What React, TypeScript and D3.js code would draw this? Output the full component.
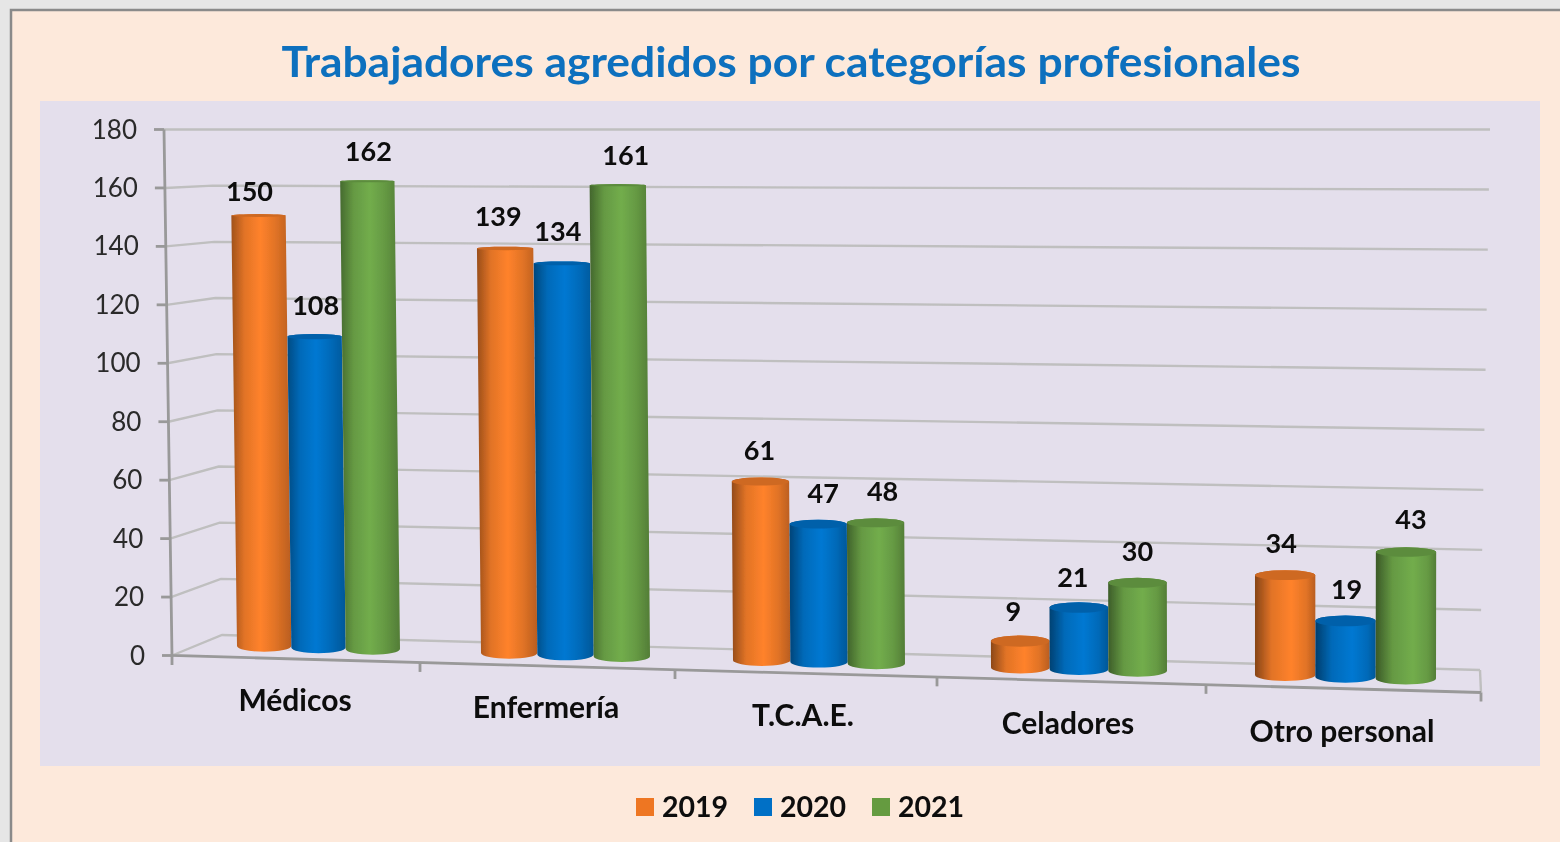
import React from "react";
import * as d3 from "d3";

const title = "Trabajadores agredidos por categorías profesionales";
const categories = ["Médicos", "Enfermería", "T.C.A.E.", "Celadores", "Otro personal"];
const years = ["2019", "2020", "2021"];
const values2019 = [150, 139, 61, 9, 34];
const values2020 = [108, 134, 47, 21, 19];
const values2021 = [162, 161, 48, 30, 43];
const series = [values2019, values2020, values2021];
const axisTicks = [0, 20, 40, 60, 80, 100, 120, 140, 160, 180];

// layout (perspective projection of the original 3-D chart)
const axisY = d3.scaleLinear().domain([0, 180]).range([655.5, 129.5]);
const axisX = d3.scaleLinear().domain([0, 180]).range([172, 164]);
const backLeftY = d3.scaleLinear().domain([0, 180]).range([635, 129.5]);
const backLeftX = d3.scaleLinear().domain([0, 180]).range([222, 212]);
const backRightY = d3.scaleLinear().domain([0, 180]).range([670, 129.5]);
const backRightX = d3.scaleLinear().domain([0, 180]).range([1480, 1490]);
const groupStart = d3.scaleLinear().domain([0, 1, 2, 3, 4]).range([237, 481, 733, 991, 1255]);
const groupWidth = d3.scaleLinear().domain([0, 1, 2, 3, 4]).range([163, 169, 172, 176, 181]);
const baseY = d3.scaleLinear().domain([264, 1407]).range([646, 678.5]);
const unitPx = d3.scaleLinear().domain([264, 600, 1407]).range([2.87, 2.925, 2.94]);
const leanPerPx = d3.scaleLinear().domain([237, 1290]).range([-0.0135, 0]);
const capRy = d3.scaleLinear().domain([130, 680]).range([0.6, 6]).clamp(true);
const highlight = d3.scaleLinear().domain([237, 1437]).range([0.48, 0.62]);
const edgeDark = d3.scaleLinear().domain([237, 1437]).range([0.18, 0.55]);
const floorTicksX = [172, 420, 675, 937, 1206, 1481];
const floorY = d3.scaleLinear().domain([172, 1481]).range([656, 692.5]);
const catLabelX = [295, 546, 803, 1068, 1342];
const catLabelY = d3.scaleLinear().domain([295, 1342]).range([701, 732]);
const labelNudgeX = [[-9, 1, 1], [-7, -4, 8], [-1, 5, 7], [-7, -6, 0], [-4, 1, 5]];
const labelGapY = [[23, 29, 29], [31, 30, 29], [27, 27, 27], [24, 25, 27], [27, 26, 28]];
const palette = ["#FF822B", "#0678D2", "#72AD4C"];
const legendColors = ["#EE7623", "#0270C6", "#659B3F"];
const legendX = [636, 754, 872];

const FONT = "Lato, Carlito, 'Open Sans', sans-serif";

function barGeometry(g: number, s: number, v: number) {
  const w = groupWidth(g) / 3;
  const xl = groupStart(g) + s * w;
  const xr = xl + w;
  const cx = (xl + xr) / 2;
  const by = baseY(cx);
  const h = v * unitPx(cx);
  const ty = by - h;
  const dx = leanPerPx(cx) * h;
  return { xl, xr, cx, by, ty, dx, w };
}

function barPath(b: ReturnType<typeof barGeometry>) {
  const rb = capRy(b.by);
  const rt = capRy(b.ty);
  return `M${b.xl + b.dx},${b.ty} L${b.xl},${b.by} A${b.w / 2},${rb} 0 0 0 ${b.xr},${b.by} L${b.xr + b.dx},${b.ty} A${b.w / 2},${rt} 0 0 0 ${b.xl + b.dx},${b.ty} Z`;
}

function capPath(b: ReturnType<typeof barGeometry>) {
  const rt = capRy(b.ty);
  return `M${b.xl + b.dx},${b.ty} A${b.w / 2},${rt} 0 1 1 ${b.xr + b.dx},${b.ty} A${b.w / 2},${rt} 0 1 1 ${b.xl + b.dx},${b.ty} Z`;
}

export default function App() {
  const line = d3.line();
  const bars = categories.flatMap((_, g) => series.map((vals, s) => ({ g, s, v: vals[g], b: barGeometry(g, s, vals[g]) })));
  return (
    <svg width={1560} height={842} style={{ position: "absolute", left: 0, top: 0 }} fontFamily={FONT}>
      <defs>
        <filter id="soft" x="-5%" y="-5%" width="110%" height="110%">
          <feGaussianBlur stdDeviation="0.5" />
        </filter>
        {bars.map(({ g, s, b }) => {
          const base = d3.color(palette[s])!;
          const dark = base.darker(1.0 + edgeDark(b.cx) * 1.6).formatHex();
          const mid = base.darker(0.35).formatHex();
          const right = base.darker(0.9).formatHex();
          const hi = highlight(b.cx);
          return (
            <linearGradient key={`${g}-${s}`} id={`grad-${g}-${s}`} x1="0" x2="1" y1="0" y2="0">
              <stop offset="0" stopColor={dark} />
              <stop offset={hi * 0.45} stopColor={mid} />
              <stop offset={hi} stopColor={palette[s]} />
              <stop offset={Math.min(0.9, hi + 0.25)} stopColor={mid} />
              <stop offset="1" stopColor={right} />
            </linearGradient>
          );
        })}
      </defs>
      <rect x={0} y={0} width={1560} height={842} fill="#E6E6E6" />
      <rect x={11} y={10} width={1560} height={850} fill="#FDE9DB" stroke="#8A8A8A" strokeWidth={2.5} />
      <rect x={40} y={101} width={1500} height={665} fill="#E4DFEC" />

      <g filter="url(#soft)">
        <text x={791} y={77} textAnchor="middle" fontWeight={700} fontSize={41.5} fill="#0A70BE" textLength={1019} lengthAdjust="spacingAndGlyphs">{title}</text>

        {axisTicks.map((t) => (
          <path key={`grid-${t}`} fill="none" stroke="#BFBFBF" strokeWidth={2.4}
            d={line([[axisX(t), axisY(t)], [backLeftX(t), backLeftY(t)], [backRightX(t), backRightY(t)]]) as string} />
        ))}
        <path fill="none" stroke="#BFBFBF" strokeWidth={2.4}
          d={line([[backRightX(0), backRightY(0)], [floorTicksX[5], floorY(floorTicksX[5])]]) as string} />

        <path fill="none" stroke="#999999" strokeWidth={2.8}
          d={line([[axisX(180), axisY(180)], [axisX(0), axisY(0)], [floorTicksX[5], floorY(floorTicksX[5])]]) as string} />
        {axisTicks.map((t) => (
          <line key={`tick-${t}`} x1={axisX(t) - 10} x2={axisX(t)} y1={axisY(t)} y2={axisY(t)} stroke="#999999" strokeWidth={2.8} />
        ))}
        {floorTicksX.map((x) => (
          <line key={`ft-${x}`} x1={x} x2={x} y1={floorY(x)} y2={floorY(x) + 9} stroke="#999999" strokeWidth={2.8} />
        ))}
        {axisTicks.map((t) => (
          <text key={`tl-${t}`} x={axisX(t) - 27} y={axisY(t) + 9} textAnchor="end" fontSize={26} fill="#2A2A2A">{t}</text>
        ))}

        {bars.map(({ g, s, b }) => (
          <g key={`bar-${g}-${s}`}>
            <path d={barPath(b)} fill={`url(#grad-${g}-${s})`} />
            <path d={capPath(b)} fill={d3.color(palette[s])!.darker(0.6).formatHex()} />
          </g>
        ))}

        {bars.map(({ g, s, v, b }) => (
          <text key={`val-${g}-${s}`} x={b.cx + b.dx + labelNudgeX[g][s]} y={b.ty - capRy(b.ty) - labelGapY[g][s] + 10}
            textAnchor="middle" fontWeight={700} fontSize={27} fill="#0A0A0A">{v}</text>
        ))}

        {categories.map((c, i) => (
          <text key={c} x={catLabelX[i]} y={catLabelY(catLabelX[i]) + 10} textAnchor="middle" fontWeight={700} fontSize={30} fill="#0A0A0A">{c}</text>
        ))}

        {years.map((y, i) => (
          <g key={y}>
            <rect x={legendX[i]} y={798} width={18} height={18} fill={legendColors[i]} />
            <text x={legendX[i] + 26} y={816.5} fontWeight={700} fontSize={28.5} fill="#0A0A0A">{y}</text>
          </g>
        ))}
      </g>
    </svg>
  );
}
